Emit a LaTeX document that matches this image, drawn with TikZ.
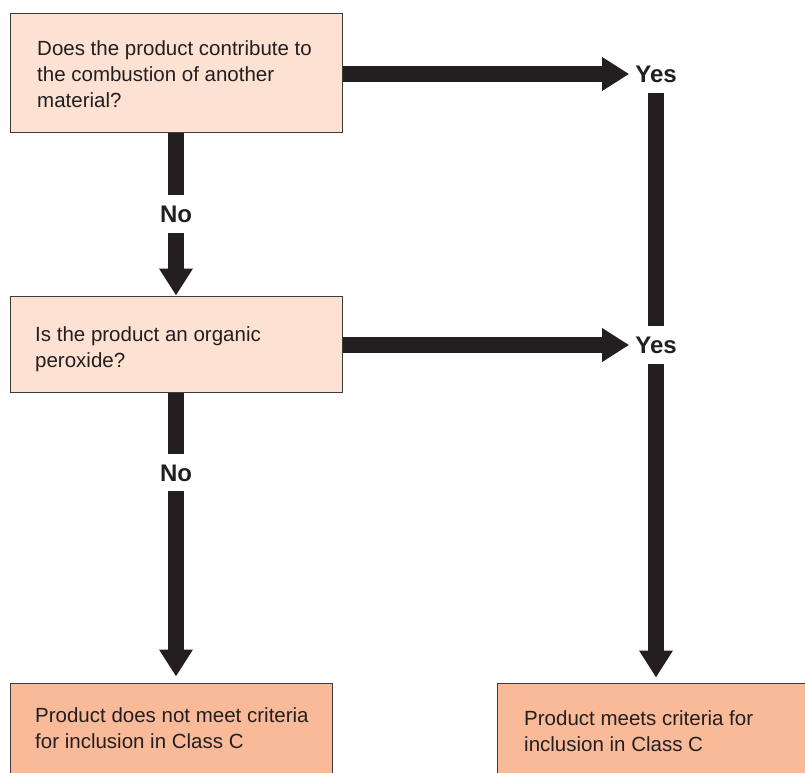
\documentclass[tikz,border=0pt]{standalone}
\usepackage{fontspec}
\setmainfont{Liberation Sans}
\usetikzlibrary{arrows.meta}
\definecolor{lightpeach}{HTML}{FDE1D2}
\definecolor{peach}{HTML}{F9BA99}
\definecolor{ink}{HTML}{231F20}
\definecolor{edgegray}{HTML}{3C3C3C}
\begin{document}
\begin{tikzpicture}[x=1pt,y=-1pt,
  qbox/.style={draw=edgegray, line width=1pt, fill=lightpeach, inner sep=0pt},
  abox/.style={draw=edgegray, line width=1pt, fill=peach, inner sep=0pt},
  txt/.style={inner sep=0pt, anchor=north west, align=left, text=ink, font=\fontsize{20.5}{26}\selectfont},
  lbl/.style={text=ink, font=\fontsize{24}{24}\selectfont\bfseries, text height=17pt, text depth=0pt, inner xsep=6pt, inner ysep=10pt},
  flow/.style={draw=ink, line width=16pt},
  flowarr/.style={flow, -{Triangle[width=32pt,length=27pt]}}
]
\useasboundingbox (0,0) rectangle (805,772);
\clip (0,0) rectangle (805,772);

% boxes
\node[qbox, minimum width=332pt, minimum height=119pt] (q1) at (176,72.5) {};
\node[qbox, minimum width=332pt, minimum height=96pt] (q2) at (176,344) {};
\node[abox, minimum width=322pt, minimum height=93pt] (nbox) at (171,729.5) {};
\node[abox, minimum width=323pt, minimum height=93pt] (ybox) at (658.5,729.5) {};

% box texts
\node[txt] (q1t) at (37,40.5) {Does the product contribute to\\the combustion of another\\material?};
\node[txt] (q2t) at (35,326.5) {Is the product an organic\\peroxide?};
\node[txt] (nt) at (35,707) {Product does not meet criteria\\for inclusion in Class C};
\node[txt] (yt) at (524,710) {Product meets criteria for\\inclusion in Class C};

% labels
\node[lbl] (yes1) at (656,74) {Yes};
\node[lbl] (yes2) at (656,345) {Yes};
\node[lbl] (no1) at (176,214) {No};
\node[lbl] (no2) at (176,472.5) {No};

% connectors
\draw[flowarr] (q1.east |- yes1) -- (yes1.west);
\draw[flowarr] (q2.east |- yes2) -- (yes2.west);
\draw[flow] (q1.south) -- (no1.north);
\draw[flowarr] (no1.south) -- (q2.north);
\draw[flow] (q2.south) -- (no2.north);
\draw[flowarr, shorten >=6pt] (no2.south) -- (nbox.north -| no2);
\draw[flow] (yes1.south) -- (yes2.north);
\draw[flowarr, shorten >=5pt] (yes2.south) -- (yes2 |- ybox.north);
\end{tikzpicture}
\end{document}
